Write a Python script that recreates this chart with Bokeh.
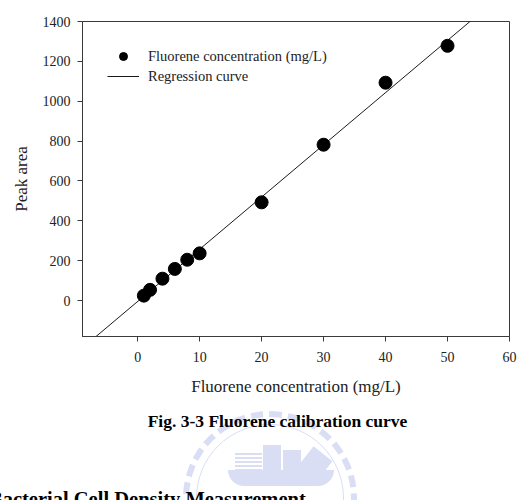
import numpy as np
from bokeh.plotting import figure
from bokeh.layouts import column
from bokeh.models import Range1d, FixedTicker, Legend, LegendItem, Div
from bokeh.embed import file_html
from bokeh.resources import INLINE

# Data
concentration = [1, 2, 4, 6, 8, 10, 20, 30, 40, 50]
peak_area = [25, 54, 110, 159, 205, 237, 493, 782, 1093, 1278]
x_ticks = [0, 10, 20, 30, 40, 50, 60]
y_ticks = [0, 200, 400, 600, 800, 1000, 1200, 1400]
x_label = "Fluorene concentration (mg/L)"
y_label = "Peak area"
series_label = "Fluorene concentration (mg/L)"
fit_label = "Regression curve"
caption = "Fig. 3-3 Fluorene calibration curve"
heading = "Bacterial Cell Density Measurement"

FONT = "Liberation Serif"
INK = "#222222"
FRAME = "#3a3a3a"
WM = "#d9def5"

x_min, x_max = -8.9, 60
y_min, y_max = -180, 1400

W = 532
H_TOP = 405
H_BOTTOM = 95

p = figure(width=W, height=H_TOP, output_backend="svg", toolbar_location=None,
           x_range=Range1d(x_min, x_max), y_range=Range1d(y_min, y_max),
           min_border_left=82, min_border_right=23, min_border_top=21,
           min_border_bottom=H_TOP - 336)
p.background_fill_color = "white"
p.border_fill_color = "white"
p.outline_line_color = FRAME
p.outline_line_width = 1
p.xgrid.visible = False
p.ygrid.visible = False

for ax in (p.xaxis[0], p.yaxis[0]):
    ax.axis_line_color = FRAME
    ax.major_tick_line_color = FRAME
    ax.minor_tick_line_color = None
    ax.major_tick_in = 0
    ax.major_tick_out = 5
    ax.major_label_text_font = FONT
    ax.major_label_text_font_size = "14px"
    ax.major_label_text_color = INK
    ax.axis_label_text_font = FONT
    ax.axis_label_text_font_size = "17px"
    ax.axis_label_text_font_style = "normal"
    ax.axis_label_text_color = INK

p.xaxis.ticker = FixedTicker(ticks=x_ticks)
p.yaxis.ticker = FixedTicker(ticks=y_ticks)
p.xaxis.axis_label = x_label
p.yaxis.axis_label = y_label
p.xaxis.major_label_standoff = 10
p.yaxis.major_label_standoff = 7
p.xaxis.axis_label_standoff = 12
p.yaxis.axis_label_standoff = 9

# regression line from the data
slope, intercept = np.polyfit(concentration, peak_area, 1)
fit_x = [x_min, x_max]
fit_y = [slope * v + intercept for v in fit_x]
fit_r = p.line(fit_x, fit_y, line_color="#1a1a1a", line_width=1)

pts = p.scatter(concentration, peak_area, size=13, marker="circle",
                fill_color="black", line_color="black")

legend = Legend(items=[LegendItem(label=series_label, renderers=[pts]),
                       LegendItem(label=fit_label, renderers=[fit_r])],
                location="top_left", margin=25, padding=0, spacing=0,
                glyph_width=32, glyph_height=20, label_height=20,
                label_standoff=9, border_line_color=None,
                background_fill_alpha=0,
                label_text_font=FONT, label_text_font_size="14.5px",
                label_text_color=INK)
p.add_layout(legend)

# page text below the chart, with the faint watermark of the scanned page
def box(left, top, w, h, extra=""):
    return (f'<div style="position:absolute;left:{left}px;top:{top}px;'
            f'width:{w}px;height:{h}px;{extra}"></div>')

watermark = (
    box(183, 6, 174, 174, f"box-sizing:border-box;border:6px dashed {WM};border-radius:50%;")
    + box(196, 19, 148, 148, f"box-sizing:border-box;border:1.5px solid {WM};border-radius:50%;")
    + box(228, 65, 106, 16, f"background:{WM};border-radius:0 0 40px 40px;")
    + box(235, 48, 27, 17, f"background:repeating-linear-gradient({WM} 0 2px, white 2px 4px);")
    + box(263, 40, 18, 28, f"background:{WM};")
    + box(283, 45, 18, 23, f"background:{WM};")
    + box(303, 46, 24, 26, f"background:{WM};transform:rotate(38deg);")
)

html = (
    f'<div style="position:relative;width:{W}px;height:{H_BOTTOM}px;overflow:hidden;'
    f'font-family:\'{FONT}\',serif;color:black;background:white;">'
    + watermark +
    f'<div style="position:absolute;left:0;top:8px;width:555px;text-align:center;'
    f'font-size:17.5px;font-weight:bold;line-height:1;white-space:nowrap;">{caption}</div>'
    f'<div style="position:absolute;left:-11px;top:84px;'
    f'font-size:20.5px;font-weight:bold;line-height:1;white-space:nowrap;">{heading}</div>'
    f'</div>'
)
d = Div(text=html, width=W, height=H_BOTTOM, margin=0,
        styles={"overflow": "hidden"})

layout = column(p, d, spacing=0)
open("out.html", "w").write(file_html(layout, INLINE))
